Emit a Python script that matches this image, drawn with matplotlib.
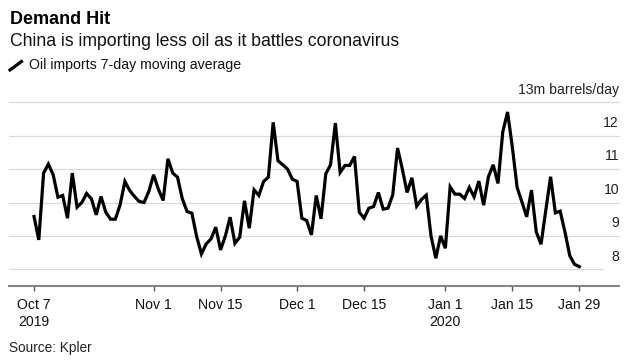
import numpy as np
import pandas as pd
import matplotlib
matplotlib.use("Agg")
import matplotlib.pyplot as plt
import matplotlib.dates as mdates
from matplotlib.lines import Line2D

plt.rcParams['font.family'] = ['Liberation Sans', 'DejaVu Sans']

# daily 7-day moving average of China oil imports, m barrels/day
dates = pd.date_range("2019-10-07", "2020-01-29", freq="D")
imports = [
    9.58, 8.88, 10.88, 11.15, 10.83, 10.16, 10.21, 9.53, 10.88, 9.86,
    10.00, 10.27, 10.11, 9.63, 10.18, 9.71, 9.50, 9.50, 9.93, 10.63,
    10.36, 10.18, 10.03, 10.00, 10.33, 10.83, 10.40, 10.06, 11.31, 10.88,
    10.76, 10.11, 9.73, 9.68, 8.98, 8.46, 8.76, 8.91, 9.26, 8.58,
    9.00, 9.56, 8.78, 8.96, 10.05, 9.23, 10.38, 10.21, 10.63, 10.76,
    12.40, 11.25, 11.13, 11.00, 10.70, 10.63, 9.53, 9.46, 9.03, 10.21,
    9.51, 10.86, 11.13, 12.38, 10.90, 11.11, 11.11, 11.38, 9.71, 9.53,
    9.83, 9.88, 10.30, 9.80, 9.83, 10.23, 11.63, 11.00, 10.30, 10.74,
    9.89, 10.09, 10.22, 9.00, 8.33, 9.00, 8.63, 10.47, 10.25, 10.25,
    10.12, 10.45, 10.17, 10.64, 9.92, 10.77, 11.13, 10.57, 12.11, 12.71,
    11.66, 10.45, 10.02, 9.57, 10.37, 9.12, 8.75, 9.77, 10.77, 9.69,
    9.74, 9.12, 8.41, 8.15, 8.08,
]

tick_dates = pd.to_datetime(["2019-10-07", "2019-11-01", "2019-11-15", "2019-12-01",
                             "2019-12-15", "2020-01-01", "2020-01-15", "2020-01-29"])
tick_labels = ["Oct 7\n2019", "Nov 1", "Nov 15", "Dec 1", "Dec 15",
               "Jan 1\n2020", "Jan 15", "Jan 29"]
y_ticks = [8, 9, 10, 11, 12, 13]
y_labels = ["8", "9", "10", "11", "12", "13m barrels/day"]

W, H = 642, 362
fig = plt.figure(figsize=(W / 100, H / 100), dpi=100)
ax_l, ax_r, ax_t, ax_b = 9, 619, 102.3, 286
ax = fig.add_axes([ax_l / W, 1 - ax_b / H, (ax_r - ax_l) / W, (ax_b - ax_t) / H])

ax.plot(dates, imports, color='black', lw=2.3, solid_joinstyle='miter', zorder=3)

ax.set_xlim(dates[0] - pd.Timedelta(days=5.23), dates[-1] + pd.Timedelta(days=8.3))
ax.set_ylim(7.5, 13)

for v in y_ticks:
    xmax = (603 - ax_l) / (ax_r - ax_l) if v == 8 else 1
    ax.axhline(v, xmin=0, xmax=xmax, color='#dadada', lw=0.9, zorder=1, clip_on=False)

for v, lab in zip(y_ticks, y_labels):
    ax.annotate(lab, xy=(1, v), xycoords=('axes fraction', 'data'),
                xytext=(0, 6.2), textcoords='offset points',
                ha='right', va='baseline', fontsize=10.1, color='#222222')

ax.set_yticks([])
for s in ['left', 'right', 'top']:
    ax.spines[s].set_visible(False)
ax.spines['bottom'].set_color('#858585')
ax.spines['bottom'].set_linewidth(1.5)

ax.set_xticks(tick_dates)
ax.set_xticklabels(tick_labels, fontsize=10.1, linespacing=1.3, color='#111111')
ax.tick_params(axis='x', length=3.6, width=1, color='#555555', pad=5)

fig.text(10 / W, 1 - 24.3 / H, "Demand Hit", fontsize=13, fontweight='bold',
         va='baseline', ha='left')
fig.text(10 / W, 1 - 45.7 / H, "China is importing less oil as it battles coronavirus",
         fontsize=12.7, va='baseline', ha='left', color='#111111')
fig.add_artist(Line2D([10 / W, 21.5 / W], [1 - 70 / H, 1 - 61.5 / H],
                      color='black', lw=2.3, transform=fig.transFigure))
fig.text(29 / W, 1 - 69 / H, "Oil imports 7-day moving average", fontsize=10.2,
         va='baseline', ha='left', color='#111111')
fig.text(9 / W, 1 - 352 / H, "Source: Kpler", fontsize=9.8, va='baseline', ha='left',
         color='#222222')

fig.savefig("out.png", dpi=100)
